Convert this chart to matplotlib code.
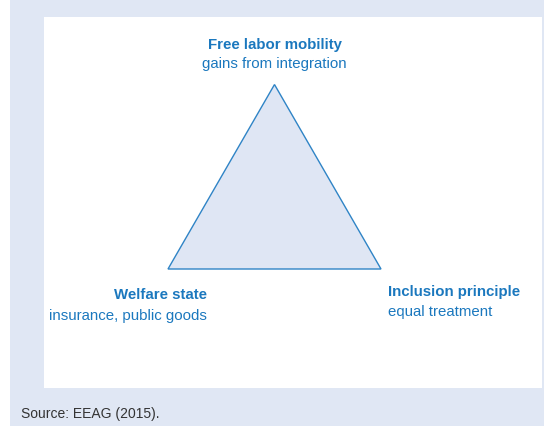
import numpy as np
import matplotlib
matplotlib.use("Agg")
import matplotlib.pyplot as plt
from matplotlib.patches import Polygon, Rectangle

# Data
corner_titles = ["Free labor mobility", "Welfare state", "Inclusion principle"]
corner_subtitles = ["gains from integration", "insurance, public goods", "equal treatment"]
source_text = "Source: EEAG (2015)."

W, H = 544, 427
fig = plt.figure(figsize=(W / 100, H / 100), dpi=100)
fig.patch.set_facecolor("white")
ax = fig.add_axes([0, 0, 1, 1])
ax.set_xlim(0, W)
ax.set_ylim(H, 0)
ax.axis("off")

bg = "#e0e7f4"
blue = "#1b78be"
edge = "#2f84c6"
fill = "#dfe6f4"

ax.add_patch(Rectangle((10, 0), W - 10, H, facecolor=bg, edgecolor="none"))
ax.add_patch(Rectangle((44, 18), 498, 371, facecolor="white", edgecolor="none"))

# Equilateral triangle
cx, base_y, side = 274.5, 270, 213
h = side * np.sqrt(3) / 2
angles = np.deg2rad([90, 210, 330])
r = side / np.sqrt(3)
cy = base_y - h / 3
verts = np.column_stack([cx + r * np.cos(angles), cy - r * np.sin(angles)])
ax.add_patch(Polygon(verts, closed=True, facecolor=fill, edgecolor=edge, linewidth=1.0))

font = "Liberation Sans"
fs = 10.8
# top
ax.text(274.5, 45, corner_titles[0], ha="center", va="center", fontsize=fs,
        fontweight="bold", color=blue, family=font)
ax.text(274.5, 64, corner_subtitles[0], ha="center", va="center", fontsize=fs,
        color=blue, family=font)
# left
ax.text(207, 295, corner_titles[1], ha="right", va="center", fontsize=fs,
        fontweight="bold", color=blue, family=font)
ax.text(207, 316, corner_subtitles[1], ha="right", va="center", fontsize=fs,
        color=blue, family=font)
# right
ax.text(388, 292, corner_titles[2], ha="left", va="center", fontsize=fs,
        fontweight="bold", color=blue, family=font)
ax.text(388, 312, corner_subtitles[2], ha="left", va="center", fontsize=fs,
        color=blue, family=font)

ax.text(21, 414, source_text, ha="left", va="center", fontsize=10,
        color="#333333", family=font)

fig.savefig("out.png", dpi=100, facecolor=fig.get_facecolor())
